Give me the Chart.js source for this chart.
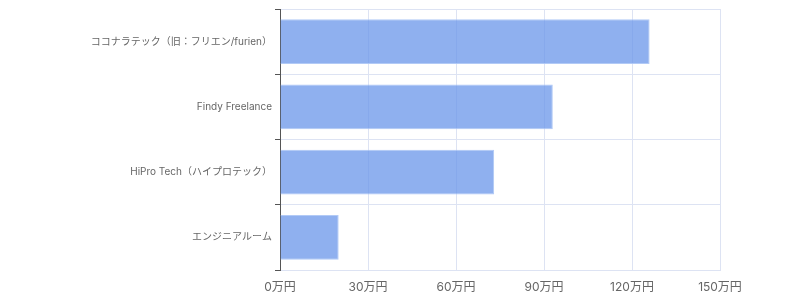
<!DOCTYPE html>
<html>
<head>
<meta charset="utf-8">
<script src="https://cdn.jsdelivr.net/npm/chart.js@4/dist/chart.umd.min.js"></script>
<style>
  html, body { margin: 0; padding: 0; background: #fff; }
  #wrap { width: 800px; height: 300px; position: relative; }
</style>
</head>
<body>
<div id="wrap"><canvas id="chart"></canvas></div>
<script>
// data (万円)
const services = ["ココナラテック（旧：フリエン/furien）", "Findy Freelance", "HiPro Tech（ハイプロテック）", "エンジニアルーム"];
const amounts = [126, 93, 73, 20];
const xTicks = [0, 30, 60, 90, 120, 150];

const gridColor = "#dde3f3";
const axisColor = "#555";
const fontFamily = "Inter, 'Noto Sans CJK JP', sans-serif";

const ctx = document.getElementById("chart");
new Chart(ctx, {
  type: "bar",
  data: {
    labels: services,
    datasets: [{
      data: amounts,
      backgroundColor: "rgba(106,150,234,0.75)",
      borderColor: "rgba(170,196,245,0.9)",
      borderWidth: 1,
      categoryPercentage: 0.8,
      barPercentage: 0.86
    }]
  },
  options: {
    indexAxis: "y",
    responsive: true,
    maintainAspectRatio: false,
    animation: false,
    layout: { padding: { top: 2, right: 80, bottom: 0, left: 0 } },
    plugins: { legend: { display: false }, tooltip: { enabled: false } },
    scales: {
      x: {
        min: 0,
        max: 150,
        afterBuildTicks: (scale) => { scale.ticks = xTicks.map((v) => ({ value: v })); },
        afterFit: (scale) => { scale.height = 30; },
        grid: { color: gridColor, drawTicks: false },
        border: { color: gridColor },
        ticks: {
          padding: 10,
          color: "#666",
          font: { family: fontFamily, size: 12 },
          callback: (v) => v + "万円"
        }
      },
      y: {
        afterFit: (scale) => { scale.width = 280; },
        grid: { color: gridColor, tickColor: axisColor, tickLength: 5, offset: true },
        border: { color: axisColor },
        ticks: {
          padding: 3,
          color: "#666",
          font: { family: fontFamily, size: 10 }
        }
      }
    }
  }
});
</script>
</body>
</html>
